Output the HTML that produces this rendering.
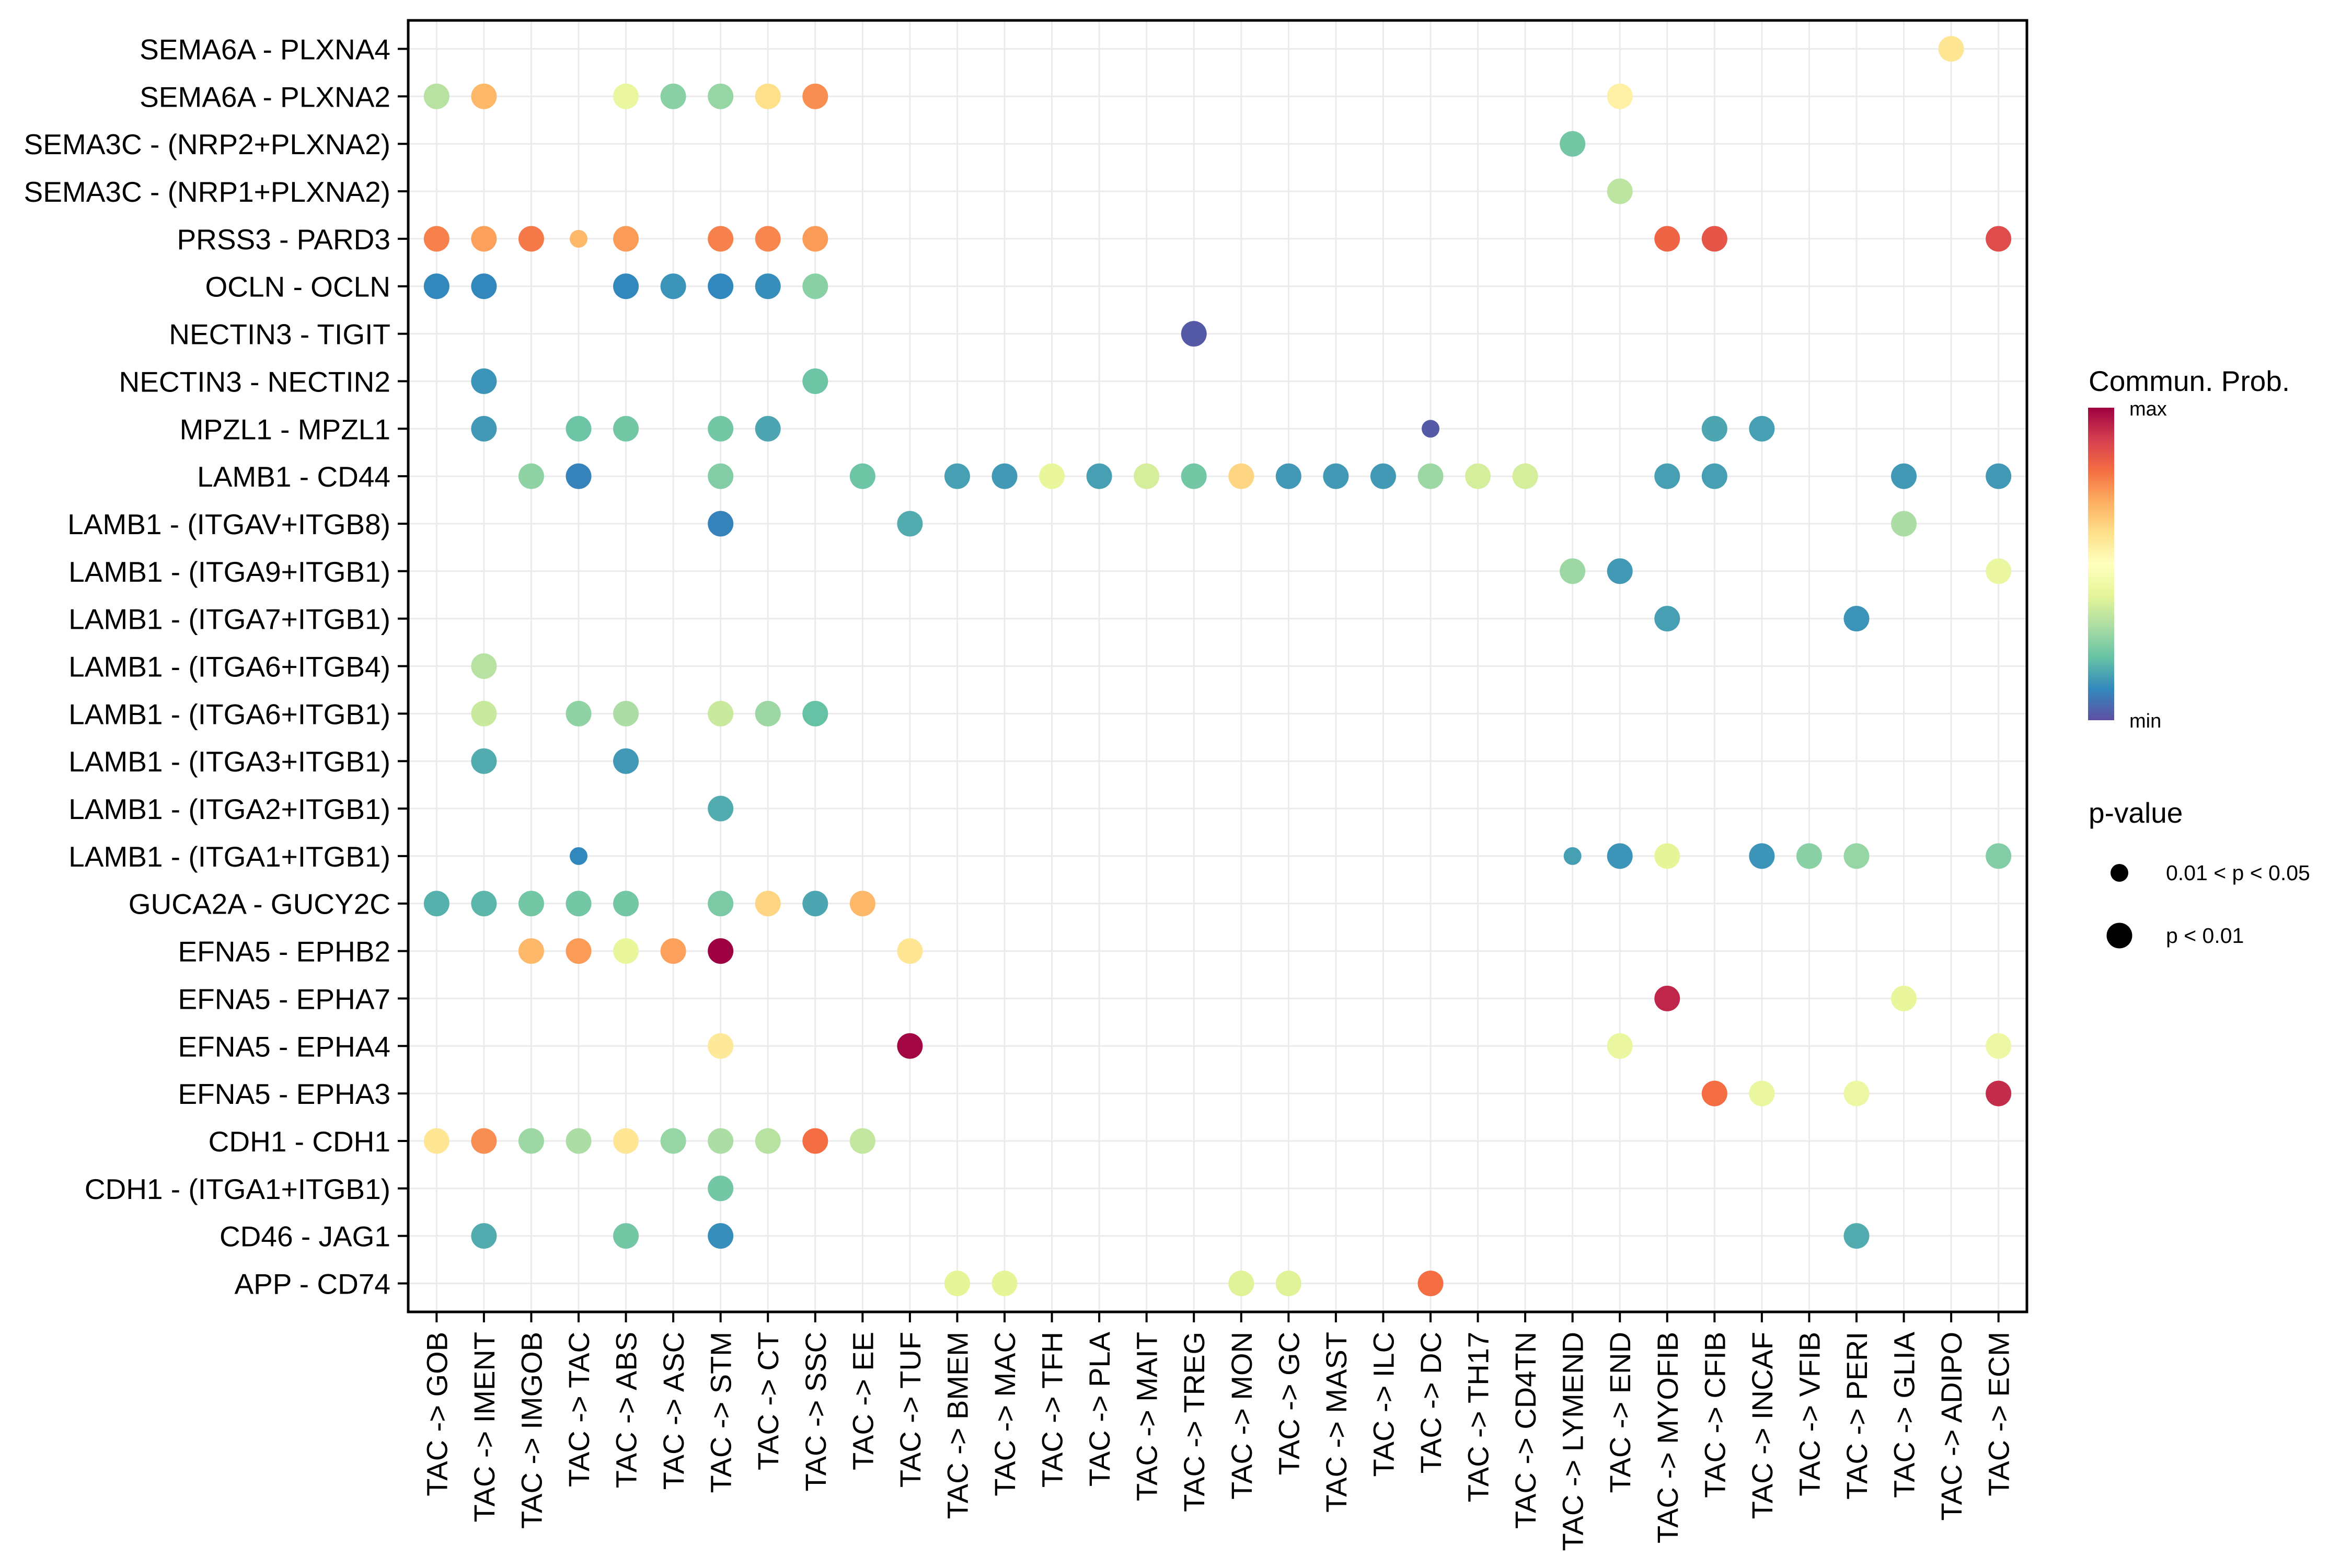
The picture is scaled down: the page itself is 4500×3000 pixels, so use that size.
<!DOCTYPE html>
<html><head><meta charset="utf-8"><style>
html,body{margin:0;padding:0;background:#fff;}
svg{display:block;font-family:"Liberation Sans",sans-serif;}
</style></head><body>
<svg id="chart" width="4500" height="3000" viewBox="0 0 4500 3000" xmlns="http://www.w3.org/2000/svg">
<defs>
<linearGradient id="spec" x1="0" y1="1" x2="0" y2="0">
<stop offset="0" stop-color="#5E4FA2"/><stop offset="0.1" stop-color="#3288BD"/><stop offset="0.2" stop-color="#66C2A5"/><stop offset="0.3" stop-color="#ABDDA4"/><stop offset="0.4" stop-color="#E6F598"/><stop offset="0.5" stop-color="#FFFFBF"/><stop offset="0.6" stop-color="#FEE08B"/><stop offset="0.7" stop-color="#FDAE61"/><stop offset="0.8" stop-color="#F46D43"/><stop offset="0.9" stop-color="#D53E4F"/><stop offset="1" stop-color="#9E0142"/>
</linearGradient>
</defs>
<g id="grid"></g>
<g id="marks"></g>
<rect x="781" y="39" width="3097" height="2471" fill="none" stroke="#000" stroke-width="5"/>
<g id="axes"></g>
<g>
<text x="3996" y="748" font-size="55">Commun. Prob.</text>
<rect x="3995" y="780" width="50" height="598" fill="url(#spec)"/>
<text x="4074" y="795" font-size="38">max</text>
<text x="4074" y="1392" font-size="38">min</text>
</g>
<g>
<text x="3996" y="1574" font-size="55">p-value</text>
<circle cx="4055" cy="1670" r="17" fill="#000"/>
<text x="4144" y="1684" font-size="41">0.01 &lt; p &lt; 0.05</text>
<circle cx="4055" cy="1790" r="24.5" fill="#000"/>
<text x="4144" y="1804" font-size="41">p &lt; 0.01</text>
</g>
</svg>
<script>
const rows = ["SEMA6A - PLXNA4","SEMA6A - PLXNA2","SEMA3C - (NRP2+PLXNA2)","SEMA3C - (NRP1+PLXNA2)","PRSS3 - PARD3","OCLN - OCLN","NECTIN3 - TIGIT","NECTIN3 - NECTIN2","MPZL1 - MPZL1","LAMB1 - CD44","LAMB1 - (ITGAV+ITGB8)","LAMB1 - (ITGA9+ITGB1)","LAMB1 - (ITGA7+ITGB1)","LAMB1 - (ITGA6+ITGB4)","LAMB1 - (ITGA6+ITGB1)","LAMB1 - (ITGA3+ITGB1)","LAMB1 - (ITGA2+ITGB1)","LAMB1 - (ITGA1+ITGB1)","GUCA2A - GUCY2C","EFNA5 - EPHB2","EFNA5 - EPHA7","EFNA5 - EPHA4","EFNA5 - EPHA3","CDH1 - CDH1","CDH1 - (ITGA1+ITGB1)","CD46 - JAG1","APP - CD74"];
const cols = ["GOB","IMENT","IMGOB","TAC","ABS","ASC","STM","CT","SSC","EE","TUF","BMEM","MAC","TFH","PLA","MAIT","TREG","MON","GC","MAST","ILC","DC","TH17","CD4TN","LYMEND","END","MYOFIB","CFIB","INCAF","VFIB","PERI","GLIA","ADIPO","ECM"];
const dotRow = [0, 1,1,1,1,1,1,1,1, 2, 3, 4,4,4,4,4,4,4,4,4,4,4, 5,5,5,5,5,5,5, 6, 7,7, 8,8,8,8,8,8,8,8, 9,9,9,9,9,9,9,9,9,9,9,9,9,9,9,9,9,9,9,9,9, 10,10,10, 11,11,11, 12,12, 13, 14,14,14,14,14,14, 15,15, 16, 17,17,17,17,17,17,17,17, 18,18,18,18,18,18,18,18,18, 19,19,19,19,19,19, 20,20, 21,21,21,21, 22,22,22,22, 23,23,23,23,23,23,23,23,23,23, 24, 25,25,25,25, 26,26,26,26,26];
const dotCol = ["ADIPO",
 "GOB","IMENT","ABS","ASC","STM","CT","SSC","END",
 "LYMEND","END",
 "GOB","IMENT","IMGOB","TAC","ABS","STM","CT","SSC","MYOFIB","CFIB","ECM",
 "GOB","IMENT","ABS","ASC","STM","CT","SSC",
 "TREG","IMENT","SSC",
 "IMENT","TAC","ABS","STM","CT","DC","CFIB","INCAF",
 "IMGOB","TAC","STM","EE","BMEM","MAC","TFH","PLA","MAIT","TREG","MON","GC","MAST","ILC","DC","TH17","CD4TN","MYOFIB","CFIB","GLIA","ECM",
 "STM","TUF","GLIA",
 "LYMEND","END","ECM",
 "MYOFIB","PERI",
 "IMENT",
 "IMENT","TAC","ABS","STM","CT","SSC",
 "IMENT","ABS",
 "STM",
 "TAC","LYMEND","END","MYOFIB","INCAF","VFIB","PERI","ECM",
 "GOB","IMENT","IMGOB","TAC","ABS","STM","CT","SSC","EE",
 "IMGOB","TAC","ABS","ASC","STM","TUF",
 "MYOFIB","GLIA",
 "STM","TUF","END","ECM",
 "CFIB","INCAF","PERI","ECM",
 "GOB","IMENT","IMGOB","TAC","ABS","ASC","STM","CT","SSC","EE",
 "STM",
 "IMENT","ABS","STM","PERI",
 "BMEM","MAC","MON","GC","DC"];
const dotProb = [0.58,
 0.32,0.68,0.42,0.25,0.27,0.6,0.75,0.55,
 0.22,0.33,
 0.77,0.72,0.78,0.68,0.73,0.77,0.76,0.73,0.82,0.85,0.87,
 0.1,0.1,0.1,0.12,0.1,0.11,0.25,
 0.02,0.12,0.21,
 0.13,0.21,0.22,0.22,0.15,0.02,0.15,0.14,
 0.26,0.09,0.24,0.21,0.14,0.13,0.41,0.14,0.37,0.22,0.62,0.13,0.13,0.13,0.28,0.37,0.37,0.14,0.14,0.13,0.13,
 0.09,0.16,0.3,
 0.28,0.13,0.42,
 0.14,0.12,
 0.32,
 0.35,0.26,0.3,0.35,0.28,0.2,
 0.16,0.13,
 0.16,
 0.1,0.14,0.12,0.4,0.12,0.25,0.27,0.24,
 0.17,0.18,0.22,0.22,0.22,0.23,0.62,0.15,0.68,
 0.68,0.73,0.41,0.72,1.0,0.58,
 0.94,0.41,
 0.57,0.99,0.42,0.43,
 0.8,0.42,0.43,0.93,
 0.58,0.75,0.28,0.3,0.58,0.27,0.3,0.32,0.8,0.34,
 0.22,
 0.16,0.22,0.11,0.16,
 0.4,0.4,0.39,0.39,0.8];
const dotSig = [1, 1,1,1,1,1,1,1,1, 1, 1, 1,1,1,0,1,1,1,1,1,1,1, 1,1,1,1,1,1,1, 1, 1,1, 1,1,1,1,1,0,1,1, 1,1,1,1,1,1,1,1,1,1,1,1,1,1,1,1,1,1,1,1,1, 1,1,1, 1,1,1, 1,1, 1, 1,1,1,1,1,1, 1,1, 1, 0,0,1,1,1,1,1,1, 1,1,1,1,1,1,1,1,1, 1,1,1,1,1,1, 1,1, 1,1,1,1, 1,1,1,1, 1,1,1,1,1,1,1,1,1,1, 1, 1,1,1,1, 1,1,1,1,1];

const NS="http://www.w3.org/2000/svg";
const L=781,R=3878,T=39,B=2510;
const dx=(R-L)/(cols.length-1+1.2), dy=(B-T)/(rows.length-1+1.2);
function xPos(c){return L+0.6*dx+cols.indexOf(c)*dx;}
function xIdx(i){return L+0.6*dx+i*dx;}
function yPos(r){return T+0.6*dy+r*dy;}
const stops=["#5E4FA2","#3288BD","#66C2A5","#ABDDA4","#E6F598","#FFFFBF","#FEE08B","#FDAE61","#F46D43","#D53E4F","#9E0142"];
function hex(h){return [1,3,5].map(i=>parseInt(h.substr(i,2),16));}
function color(v){v=Math.max(0,Math.min(1,v));const p=v*10,i=Math.min(9,Math.floor(p)),t=p-i;const a=hex(stops[i]),b=hex(stops[i+1]);return "rgb("+a.map((x,k)=>Math.round(x+(b[k]-x)*t)).join(",")+")";}
function mk(tag,attrs,parent){const e=document.createElementNS(NS,tag);for(const k in attrs)e.setAttribute(k,attrs[k]);parent.appendChild(e);return e;}
const grid=document.getElementById('grid'),marks=document.getElementById('marks'),axes=document.getElementById('axes');
for(let i=0;i<cols.length;i++){
 const l=mk('line',{x1:xIdx(i),x2:xIdx(i),y1:T,y2:B,stroke:'#EBEBEB','stroke-width':3},grid);
 
 
 const t=mk('line',{x1:xIdx(i),x2:xIdx(i),y1:B,y2:B+20,stroke:'#000','stroke-width':4},axes);
 
 
 const tx=mk('text',{x:0,y:0,'font-size':56,'text-anchor':'end',transform:'translate('+(xIdx(i)+20)+','+(B+38)+') rotate(-90)'},axes);
 tx.textContent='TAC -> '+cols[i];
 
 
}
for(let r=0;r<rows.length;r++){
 const l=mk('line',{x1:L,x2:R,y1:yPos(r),y2:yPos(r),stroke:'#EBEBEB','stroke-width':3},grid);
 
 
 const t=mk('line',{x1:L-20,x2:L,y1:yPos(r),y2:yPos(r),stroke:'#000','stroke-width':4},axes);
 
 
 const tx=mk('text',{x:L-34,y:yPos(r)+20,'font-size':55,'text-anchor':'end'},axes);
 tx.textContent=rows[r];
 
 
}
for(let i=0;i<dotRow.length;i++){
 const c=mk('circle',{cx:xPos(dotCol[i]),cy:yPos(dotRow[i]),r:dotSig[i]?24.5:17,fill:color(dotProb[i])},marks);
 
 
}
</script>
</body></html>
